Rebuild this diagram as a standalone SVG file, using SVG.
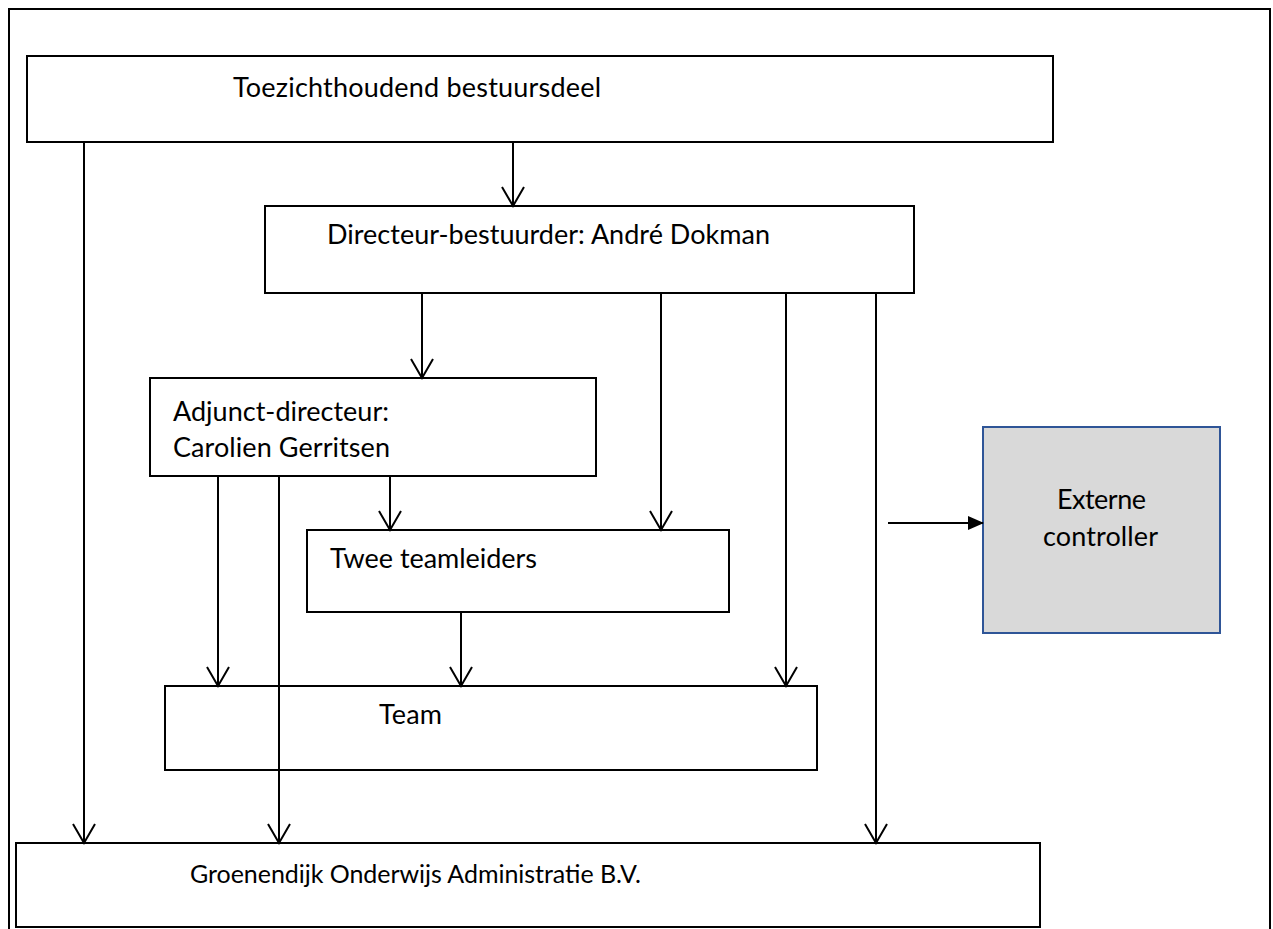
<svg xmlns="http://www.w3.org/2000/svg" width="1273" height="929" viewBox="0 0 1273 929">
<defs>
<style>
.box{fill:#fff;stroke:#000;stroke-width:2}
.ext{fill:#d9d9d9;stroke:#2f5597;stroke-width:2}
.t{font-family:Lato,"Open Sans","Liberation Sans",sans-serif;font-size:27px;fill:#000}
.c{stroke:#000;stroke-width:2;fill:none}
</style>
<marker id="open" viewBox="0 0 24 24" markerWidth="24" markerHeight="24" refX="21" refY="12" orient="auto" markerUnits="userSpaceOnUse">
<path d="M2,1 L21,12 L2,23" fill="none" stroke="#000" stroke-width="2"/>
</marker>
<marker id="solid" viewBox="0 0 16 14" markerWidth="16" markerHeight="14" refX="15" refY="7" orient="auto" markerUnits="userSpaceOnUse">
<path d="M0,0 L16,7 L0,14 Z" fill="#000"/>
</marker>
</defs>
<rect x="9" y="9" width="1261" height="940" fill="none" stroke="#000" stroke-width="2"/>
<g id="toezicht"><rect class="box" x="27" y="56" width="1026" height="86"/><text class="t" x="233" y="97" textLength="368">Toezichthoudend bestuursdeel</text></g>
<g id="directeur"><rect class="box" x="265" y="206" width="649" height="87"/><text class="t" x="327" y="244" textLength="443">Directeur-bestuurder: André Dokman</text></g>
<g id="adjunct"><rect class="box" x="150" y="378" width="446" height="98"/><text class="t" x="173" y="421" textLength="216">Adjunct-directeur:</text><text class="t" x="173" y="457" textLength="217">Carolien Gerritsen</text></g>
<g id="teamleiders"><rect class="box" x="307" y="530" width="422" height="82"/><text class="t" x="330" y="568" textLength="207">Twee teamleiders</text></g>
<g id="team"><rect class="box" x="165" y="686" width="652" height="84"/><text class="t" x="379" y="724" textLength="63">Team</text></g>
<g id="groenendijk"><rect class="box" x="16" y="843" width="1024" height="84"/><text class="t" x="190" y="883" style="font-size:25px" textLength="451">Groenendijk Onderwijs Administratie B.V.</text></g>
<g id="extern"><rect class="ext" x="983" y="427" width="237" height="206"/><text class="t" x="1057" y="509" textLength="89">Externe</text><text class="t" x="1043" y="546" textLength="115">controller</text></g>
<g id="connectors" class="c">
<line x1="84" y1="142" x2="84" y2="843" marker-end="url(#open)"/>
<line x1="513" y1="142" x2="513" y2="206" marker-end="url(#open)"/>
<line x1="422" y1="293" x2="422" y2="378" marker-end="url(#open)"/>
<line x1="661" y1="293" x2="661" y2="530" marker-end="url(#open)"/>
<line x1="786" y1="293" x2="786" y2="686" marker-end="url(#open)"/>
<line x1="876" y1="293" x2="876" y2="843" marker-end="url(#open)"/>
<line x1="218" y1="476" x2="218" y2="686" marker-end="url(#open)"/>
<line x1="279" y1="476" x2="279" y2="843" marker-end="url(#open)"/>
<line x1="390" y1="476" x2="390" y2="530" marker-end="url(#open)"/>
<line x1="461" y1="612" x2="461" y2="686" marker-end="url(#open)"/>
<line x1="888" y1="523" x2="983" y2="523" marker-end="url(#solid)"/>
</g>
</svg>
